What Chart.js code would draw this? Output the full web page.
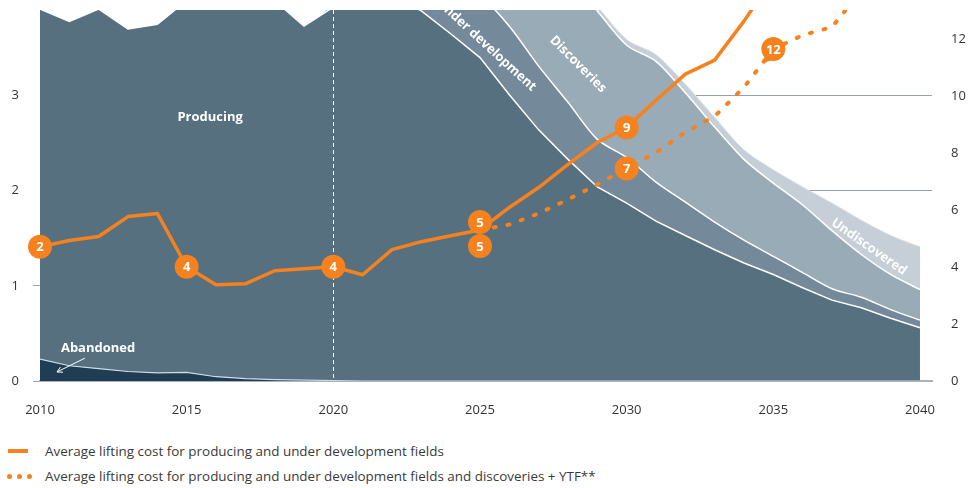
<!DOCTYPE html>
<html>
<head>
<meta charset="utf-8">
<title>Lifting cost and production outlook</title>
<script src="https://cdn.jsdelivr.net/npm/chart.js@4.4.1/dist/chart.umd.min.js"></script>
<style>
  body { margin: 0; background: #fff; font-family: "Open Sans", sans-serif; }
  #wrap { position: relative; width: 972px; height: 488px; overflow: hidden; }
  #liftingChart { position: absolute; left: 0; top: 0; }
  .legend-row { position: absolute; left: 0; height: 18px; line-height: 18px; font-size: 13.45px; color: #3a3a3a; white-space: nowrap; }
  .legend-row .txt { position: absolute; left: 45px; top: 0; }
  .key-solid { position: absolute; left: 8px; top: 7px; width: 20px; height: 4px; background: #f5821f; }
  .key-dot { position: absolute; top: 7px; width: 5px; height: 5px; border-radius: 50%; background: #f5821f; }
</style>
</head>
<body>
<div id="wrap">
  <canvas id="liftingChart" width="972" height="425"></canvas>
  <div class="legend-row" style="top:442px">
    <span class="key-solid"></span>
    <span class="txt">Average lifting cost for producing and under development fields</span>
  </div>
  <div class="legend-row" style="top:467px">
    <span class="key-dot" style="left:7px"></span><span class="key-dot" style="left:17px"></span><span class="key-dot" style="left:27px"></span>
    <span class="txt">Average lifting cost for producing and under development fields and discoveries + YTF**</span>
  </div>
</div>

<script>
// ---- data --------------------------------------------------------------
const YEARS = [2010, 2011, 2012, 2013, 2014, 2015, 2016, 2017, 2018, 2019,
               2020, 2021, 2022, 2023, 2024, 2025, 2026, 2027, 2028, 2029,
               2030, 2031, 2032, 2033, 2034, 2035, 2036, 2037, 2038, 2039, 2040];

// production layers (left axis, stacked)
const ABANDONED = [0.23, 0.16, 0.13, 0.10, 0.085, 0.09, 0.045, 0.025, 0.015, 0.01,
                   0.005, 0, 0, 0, 0, 0, 0, 0, 0, 0,
                   0, 0, 0, 0, 0, 0, 0, 0, 0, 0, 0];
const PRODUCING = [3.68, 3.62, 3.78, 3.60, 3.665, 3.91, 4.0, 4.02, 3.985, 3.72,
                   3.925, 4.1, 4.05, 3.89, 3.65, 3.40, 3.01, 2.64, 2.33, 2.04,
                   1.87, 1.68, 1.53, 1.38, 1.24, 1.12, 0.98, 0.85, 0.77, 0.66, 0.56];
const UNDER_DEV = [0, 0, 0, 0, 0, 0, 0, 0, 0, 0,
                   0.05, 0.10, 0.25, 0.41, 0.55, 0.65, 0.72, 0.67, 0.60, 0.50,
                   0.48, 0.41, 0.35, 0.29, 0.24, 0.19, 0.16, 0.12, 0.11, 0.09, 0.08];
const DISCOVERIES = [0, 0, 0, 0, 0, 0, 0, 0, 0, 0,
                     0, 0.02, 0.05, 0.15, 0.30, 0.50, 0.80, 1.10, 1.32, 1.35,
                     1.18, 1.27, 1.15, 1.00, 0.85, 0.77, 0.71, 0.61, 0.45, 0.37, 0.32];
const UNDISCOVERED = [0, 0, 0, 0, 0, 0, 0, 0, 0, 0,
                      0, 0, 0, 0, 0, 0.01, 0.02, 0.03, 0.04, 0.05,
                      0.06, 0.07, 0.09, 0.10, 0.10, 0.14, 0.19, 0.29, 0.36, 0.41, 0.45];

// lifting cost lines (right axis)
const COST_FIELDS = [4.71, 4.93, 5.07, 5.77, 5.88, 4.01, 3.38, 3.41, 3.87, 3.94,
                     4.01, 3.73, 4.61, 4.89, 5.10, 5.30, 6.09, 6.79, 7.60, 8.37,
                     8.90, 9.85, 10.77, 11.26, 12.63, 14.15, null, null, null, null, null];
const COST_FIELDS_YTF = [null, null, null, null, null, null, null, null, null, null,
                         null, null, null, null, null, 5.30, 5.49, 5.88, 6.37, 6.90,
                         7.46, 8.02, 8.73, 9.29, 10.31, 11.65, 12.14, 12.42, 13.70, null, null];

// badges on the cost lines
const BADGE_YEARS_FIELDS = [2010, 2015, 2020, 2025, 2030];
const BADGE_TEXT_FIELDS = ['2', '4', '4', '5', '9'];
const BADGE_YEARS_YTF = [2025, 2030, 2035];
const BADGE_TEXT_YTF = ['5', '7', '12'];

const X_TICKS = [2010, 2015, 2020, 2025, 2030, 2035, 2040];
const LEFT_TICKS = [0, 1, 2, 3];
const RIGHT_TICKS = [0, 2, 4, 6, 8, 10, 12];
const DIVIDER_YEAR = 2020;

// ---- styling -----------------------------------------------------------
const ORANGE = '#f5821f';
const FONT = '"Open Sans", sans-serif';
Chart.defaults.font.family = FONT;
Chart.defaults.color = '#333';

const toPoints = arr => YEARS.map((x, i) => ({ x, y: arr[i] }));

function areaSet(label, values, fill, bg, border, order, width, tension) {
  return {
    type: 'line', label, data: toPoints(values), yAxisID: 'y',
    fill, backgroundColor: bg, borderColor: border, borderWidth: width,
    pointRadius: 0, tension, order, stack: 'volume'
  };
}

// vertical axes: fixed width, no extra label padding above/below
function fixVertical(width) {
  return s => {
    s.width = width;
    s.paddingTop = 0;
    s.paddingBottom = 0;
  };
}

// badges, area captions and the dashed 2020 divider
const annotations = {
  id: 'annotations',
  afterDatasetsDraw(chart) {
    const { ctx, chartArea, scales } = chart;
    const x = scales.x, y = scales.y;

    ctx.save();
    ctx.beginPath();
    ctx.rect(chartArea.left, chartArea.top, chartArea.right - chartArea.left, chartArea.bottom - chartArea.top);
    ctx.clip();

    // divider
    const xd = Math.round(x.getPixelForValue(DIVIDER_YEAR)) + 0.5;
    ctx.strokeStyle = 'rgba(255,255,255,0.95)';
    ctx.lineWidth = 1;
    ctx.setLineDash([4, 3]);
    ctx.beginPath();
    ctx.moveTo(xd, chartArea.top);
    ctx.lineTo(xd, chartArea.bottom);
    ctx.stroke();
    ctx.setLineDash([]);

    // captions
    const caption = (text, yr, val, angle, alpha) => {
      ctx.save();
      ctx.translate(x.getPixelForValue(yr), y.getPixelForValue(val));
      ctx.rotate(angle * Math.PI / 180);
      ctx.fillStyle = `rgba(255,255,255,${alpha})`;
      ctx.font = `bold 13px ${FONT}`;
      ctx.textAlign = 'center';
      ctx.textBaseline = 'middle';
      ctx.fillText(text, 0, 0);
      ctx.restore();
    };
    caption('Producing', 2015.8, 2.77, 0, 1);
    caption('Abandoned', 2011.98, 0.34, 0, 1);
    caption('Under development', 2025.22, 3.53, 42.5, 1);
    caption('Discoveries', 2028.34, 3.33, 45, 1);
    caption('Undiscovered', 2038.26, 1.41, 35, 0.95);

    // arrow to the abandoned layer
    const ax0 = x.getPixelForValue(2011.53), ay0 = y.getPixelForValue(0.24);
    const ax1 = x.getPixelForValue(2010.58), ay1 = y.getPixelForValue(0.095);
    ctx.strokeStyle = '#fff';
    ctx.lineWidth = 1;
    ctx.beginPath();
    ctx.moveTo(ax0, ay0);
    ctx.lineTo(ax1, ay1);
    const ang = Math.atan2(ay1 - ay0, ax1 - ax0);
    for (const d of [0.5, -0.5]) {
      ctx.moveTo(ax1, ay1);
      ctx.lineTo(ax1 - 6 * Math.cos(ang + d), ay1 - 6 * Math.sin(ang + d));
    }
    ctx.stroke();
    ctx.restore();

    // number badges placed on the cost lines
    const badge = (dsIndex, yr, text, dy, tail) => {
      const meta = chart.getDatasetMeta(dsIndex);
      const pt = meta.data[YEARS.indexOf(yr)];
      const cx = pt.x, cy = pt.y + dy;
      ctx.save();
      ctx.fillStyle = ORANGE;
      ctx.beginPath();
      ctx.arc(cx, cy, 12, 0, Math.PI * 2);
      ctx.fill();
      if (tail) {
        ctx.beginPath();
        ctx.moveTo(cx - 9, cy + 6);
        ctx.lineTo(cx - 9, cy + 14);
        ctx.lineTo(cx - 2, cy + 11);
        ctx.closePath();
        ctx.fill();
      }
      ctx.fillStyle = '#fff';
      ctx.font = `bold 13px ${FONT}`;
      ctx.textAlign = 'center';
      ctx.textBaseline = 'middle';
      ctx.fillText(text, cx, cy + 1);
      ctx.restore();
    };
    BADGE_YEARS_FIELDS.forEach((yr, i) => badge(0, yr, BADGE_TEXT_FIELDS[i], yr === 2025 ? -8 : 0, false));
    BADGE_YEARS_YTF.forEach((yr, i) => badge(1, yr, BADGE_TEXT_YTF[i], yr === 2025 ? 16 : 0, yr === 2035));
  }
};

new Chart(document.getElementById('liftingChart'), {
  type: 'line',
  data: {
    datasets: [
      {
        label: 'Average lifting cost for producing and under development fields',
        data: toPoints(COST_FIELDS), yAxisID: 'y2', order: 0,
        borderColor: ORANGE, borderWidth: 3.5, pointRadius: 0, tension: 0,
        fill: false, borderJoinStyle: 'round'
      },
      {
        label: 'Average lifting cost for producing and under development fields and discoveries + YTF**',
        data: toPoints(COST_FIELDS_YTF), yAxisID: 'y2', order: 0,
        borderColor: ORANGE, borderWidth: 4, pointRadius: 0, tension: 0,
        fill: false, borderDash: [2, 12], borderCapStyle: 'round'
      },
      areaSet('Abandoned', ABANDONED, 'origin', '#1f3e53', 'rgba(220,232,240,0.9)', 1, 1.2, 0),
      areaSet('Producing', PRODUCING, '-1', '#56707f', '#ffffff', 2, 1.5, 0),
      areaSet('Under development', UNDER_DEV, '-1', '#74899a', '#ffffff', 3, 1.5, 0.3),
      areaSet('Discoveries', DISCOVERIES, '-1', '#99abb7', '#ffffff', 4, 1.5, 0.3),
      areaSet('Undiscovered', UNDISCOVERED, '-1', '#c6cfd7', '#d9e0e6', 5, 1, 0.3)
    ]
  },
  options: {
    responsive: false,
    devicePixelRatio: 1,
    animation: false,
    layout: { padding: { top: 10, left: 0, right: 0, bottom: 0 } },
    plugins: { legend: { display: false }, tooltip: { enabled: false } },
    scales: {
      x: {
        type: 'linear', min: 2010, max: 2040.41, z: 1,
        afterBuildTicks: s => { s.ticks = X_TICKS.map(v => ({ value: v })); },
        afterFit: s => { s.height = 44; s.paddingLeft = 0; s.paddingRight = 0; },
        ticks: { padding: 21, font: { size: 13 }, color: '#333', callback: v => String(v) },
        grid: { display: false, drawTicks: false },
        border: { display: true, color: '#aab3ba', width: 2 }
      },
      y: {
        position: 'left', stacked: true, min: 0, max: 3.9,
        afterBuildTicks: s => { s.ticks = LEFT_TICKS.map(v => ({ value: v })); },
        afterFit: fixVertical(40),
        ticks: { padding: 14, font: { size: 13 }, color: '#333' },
        grid: {
          color: c => (c.tick && c.tick.value >= 2 ? '#93a2ae' : 'rgba(0,0,0,0)'),
          lineWidth: 1, tickLength: 7,
          tickColor: c => (c.tick && c.tick.value <= 1 ? '#9aa6b0' : 'rgba(0,0,0,0)')
        },
        border: { display: false }
      },
      y2: {
        position: 'right', min: 0, max: 13.02,
        afterBuildTicks: s => { s.ticks = RIGHT_TICKS.map(v => ({ value: v })); },
        afterFit: fixVertical(40),
        ticks: { padding: 19, font: { size: 13 }, color: '#333' },
        grid: { display: false, drawTicks: false },
        border: { display: false }
      }
    }
  },
  plugins: [annotations]
});
</script>
</body>
</html>
